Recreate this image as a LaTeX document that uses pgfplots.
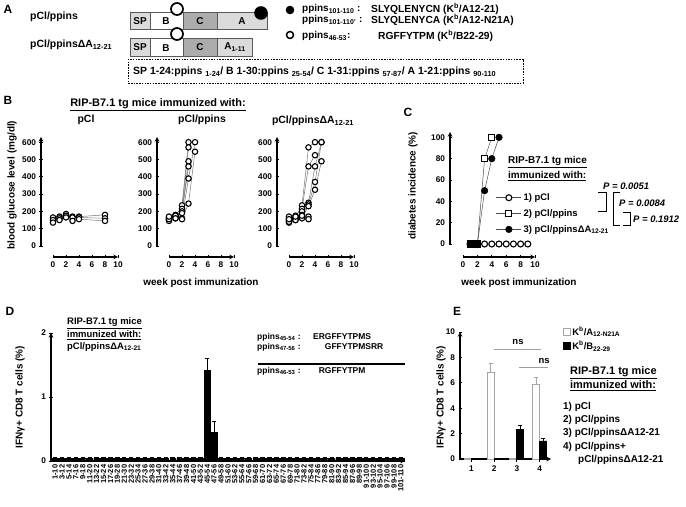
\documentclass[border=0pt]{standalone}
\usepackage{fontspec}
\setmainfont{Liberation Sans}
\usepackage{pgfplots}
\pgfplotsset{compat=1.18}
\usepackage{pgfplotstable}

\pgfplotstableread{
x y e
0 0.04 0.01
1 0.04 0.01
2 0.04 0.01
3 0.04 0.01
4 0.04 0.01
5 0.04 0.01
6 0.04 0.01
7 0.04 0.01
8 0.04 0.01
9 0.04 0.01
10 0.04 0.01
11 0.04 0.01
12 0.04 0.01
13 0.04 0.01
14 0.04 0.01
15 0.04 0.01
16 0.04 0.01
17 0.04 0.01
18 0.04 0.01
19 0.04 0.01
20 0.04 0.01
21 0.04 0.01
22 1.42 0.18
23 0.45 0.16
24 0.04 0.01
25 0.04 0.01
26 0.04 0.01
27 0.04 0.01
28 0.04 0.01
29 0.04 0.01
30 0.04 0.01
31 0.04 0.01
32 0.04 0.01
33 0.04 0.01
34 0.04 0.01
35 0.04 0.01
36 0.04 0.01
37 0.04 0.01
38 0.04 0.01
39 0.04 0.01
40 0.04 0.01
41 0.04 0.01
42 0.04 0.01
43 0.04 0.01
44 0.04 0.01
45 0.04 0.01
46 0.04 0.01
47 0.04 0.01
48 0.04 0.01
49 0.04 0.01
50 0.04 0.01
}\dataD

\pgfplotsset{
  gp/.style={
    scale only axis, clip=false,
    axis line style={-, line width=1.1bp, black},
    tick style={black, line width=0.9bp},
    tick align=outside,
    major tick length=3bp, minor tick length=2bp,
    tick label style={font=\fontsize{8.3}{9}\selectfont},
    /pgf/number format/assume math mode=true,
  },
  mouse/.style={black!55, line width=0.5bp, mark=*, mark size=2.7bp,
    mark options={solid, draw=black, fill=white, line width=1.1bp}},
  xonly/.style={gp, height=4bp, ymin=0, ymax=1, xmin=0, xmax=10,
    axis x line=bottom, axis y line=none, xtick={0,2,...,10}, minor x tick num=1, ytick=\empty},
  bsub/.style={gp, anchor=south west, width=77bp, height=109bp,
    xmin=-1.846, xmax=10, ymin=0, ymax=630, axis y line=left, axis x line=none, xtick=\empty,
    ytick={0,100,...,600}, minor y tick num=1},
  sqlegend/.style={legend image code/.code={\draw[##1] (0bp,-3.5bp) rectangle (7bp,3.5bp);}},
}

\begin{document}
\bfseries
\begin{tikzpicture}
\useasboundingbox (0,0) rectangle (686bp,507bp);

% ---------------- Panel B ----------------
\begin{axis}[bsub, at={(41bp,261bp)}]
\addplot[mouse] coordinates {(0,165)(1,170)(2,185)(3,170)(4,170)(8,180)};
\addplot[mouse] coordinates {(0,150)(1,160)(2,175)(3,165)(4,165)(8,160)};
\addplot[mouse] coordinates {(0,135)(1,150)(2,165)(3,145)(4,155)(8,145)};
\end{axis}
\begin{axis}[xonly, at={(53bp,250bp)}, anchor=south west, width=65bp]
\end{axis}

\begin{axis}[bsub, at={(157bp,261bp)}]
\addplot[mouse] coordinates {(0,160)(1,170)(2,235)(3,600)};
\addplot[mouse] coordinates {(0,150)(1,160)(2,215)(3,570)};
\addplot[mouse] coordinates {(0,165)(1,180)(2,200)(3,490)};
\addplot[mouse] coordinates {(0,145)(1,165)(2,190)(3,460)};
\addplot[mouse] coordinates {(0,155)(1,175)(2,160)(3,390)(4,600)};
\addplot[mouse] coordinates {(0,170)(1,160)(2,155)(3,245)(4,545)};
\end{axis}
\begin{axis}[xonly, at={(169bp,250bp)}, anchor=south west, width=65bp]
\end{axis}

\begin{axis}[bsub, at={(277bp,261bp)}]
\addplot[mouse] coordinates {(0,150)(1,165)(2,235)(3,570)(4,600)};
\addplot[mouse] coordinates {(0,160)(1,175)(2,215)(3,460)(4,525)};
\addplot[mouse] coordinates {(0,135)(1,150)(2,200)(3,250)(4,460)(5,600)};
\addplot[mouse] coordinates {(0,170)(1,155)(2,180)(3,240)(4,370)(5,600)};
\addplot[mouse] coordinates {(0,145)(1,160)(2,165)(3,230)(4,325)(5,490)};
\addplot[mouse] coordinates {(0,140)(1,150)(2,160)(3,170)};
\addplot[mouse] coordinates {(0,155)(1,170)(2,175)(3,155)};
\end{axis}
\begin{axis}[xonly, at={(289bp,250bp)}, anchor=south west, width=65bp]
\end{axis}

% ---------------- Panel C ----------------
\begin{axis}[gp, at={(450bp,263bp)}, anchor=south west, width=85bp, height=112bp,
  xmin=-1.806, xmax=10, ymin=0, ymax=105,
  axis y line=left, axis x line=none, xtick=\empty,
  ytick={0,20,...,100}, minor y tick num=1,
  legend image code/.code={\draw[mark repeat=2,mark phase=2,#1] plot coordinates {(0bp,0bp) (12.5bp,0bp) (25bp,0bp)};},
  legend style={at={(0.54,0.47)}, anchor=north west, draw=none, fill=none,
    font=\fontsize{9.5}{10}\selectfont, row sep=3.5bp, inner sep=0pt, cells={anchor=west}},
  legend cell align=left]
\addplot[black!70, line width=0.5bp, mark=*, mark size=3bp,
  mark options={solid, draw=black, fill=white, line width=1.1bp}]
  coordinates {(1,0)(2,0)(3,0)(4,0)(5,0)(6,0)(7,0)(8,0)(9,0)};
\addplot[black!70, line width=0.5bp, mark=square*, mark size=3bp,
  mark options={solid, draw=black, fill=white, line width=1.1bp}]
  coordinates {(1,0)(2,0)(3,80)(4,100)};
\addplot[black!70, line width=0.5bp, mark=*, mark size=3.3bp,
  mark options={solid, draw=black, fill=black, line width=0.5bp}]
  coordinates {(1,0)(2,0)(3,50)(4,80)(5,100)};
\legend{1) pCl, 2) pCl/ppins, 3) pCl/ppinsΔA\textsubscript{12-21}}
\end{axis}
\begin{axis}[xonly, at={(463bp,250bp)}, anchor=south west, width=72bp]
\end{axis}

% ---------------- Panel D ----------------
\begin{axis}[gp, at={(51bp,46bp)}, anchor=south west, width=354bp, height=128bp,
  xmin=-0.6, xmax=50.6, ymin=0, ymax=2,
  axis x line=bottom, axis y line=left,
  ytick={0,1,2}, minor y tick num=1,
  xtick={0,...,50}, xtick style={draw=none},
  xticklabels={1-10,3-12,5-14,7-16,9-18,11-20,13-22,15-24,17-26,19-28,21-30,23-32,25-34,27-36,29-38,31-40,33-42,35-44,37-46,39-48,41-50,43-52,45-54,47-56,49-58,51-60,53-62,55-64,57-66,59-68,61-70,63-72,65-74,67-76,69-78,71-80,73-82,75-84,77-86,79-88,81-90,83-92,85-94,87-96,89-98,91-100,93-102,95-104,97-106,99-108,101-110},
  xticklabel style={rotate=90, anchor=east, font=\fontsize{7.5}{8}\selectfont, inner sep=0.6bp},
  ybar, bar width=5.8bp]
\addplot[fill=black, draw=black,
  error bars/.cd, y dir=plus, y explicit,
  error bar style={black, line width=0.9bp},
  error mark options={rotate=90, black, mark size=2.2bp, line width=1bp}]
  table[x=x, y=y, y error=e] {\dataD};
\end{axis}

% ---------------- Panel E ----------------
\begin{axis}[gp, at={(460bp,48bp)}, anchor=south west, width=91bp, height=127bp,
  xmin=0.5, xmax=4.5, ymin=0, ymax=10,
  axis x line=bottom, axis y line=left,
  xtick={1,2,3,4}, ytick={0,2,...,10}, minor y tick num=1,
  ybar=0pt, bar width=7bp,
  legend style={at={(1.125,1.06)}, anchor=north west, draw=none, fill=none,
    font=\fontsize{9.5}{10}\selectfont, row sep=0.5bp, inner sep=0pt, cells={anchor=west}},
  legend cell align=left]
\addplot[fill=white, draw=gray!70, line width=0.8bp, sqlegend,
  error bars/.cd, y dir=plus, y explicit,
  error bar style={gray!70, line width=0.8bp},
  error mark options={rotate=90, gray!70, mark size=2bp, line width=0.8bp}]
  coordinates {(1,0.06) (2,6.8) +- (0,0.7) (3,0.06) (4,5.9) +- (0,0.56)};
\addplot[fill=black, draw=black, line width=0.8bp, sqlegend,
  error bars/.cd, y dir=plus, y explicit,
  error bar style={black, line width=0.8bp},
  error mark options={rotate=90, black, mark size=2bp, line width=0.8bp}]
  coordinates {(1,0.06) (2,0.06) (3,2.36) +- (0,0.25) (4,1.42) +- (0,0.23)};
\legend{K\textsuperscript{b}/A\textsubscript{12-N21A}, K\textsuperscript{b}/B\textsubscript{22-29}}
\draw[gray!75, line width=1bp] (axis cs:2,8.66) -- (axis cs:4.05,8.66);
\draw[gray!75, line width=1bp] (axis cs:3.1,7.17) -- (axis cs:4.35,7.17);
\node[font=\fontsize{9.5}{10}\selectfont, anchor=south] at (axis cs:3.05,8.7) {ns};
\node[font=\fontsize{9.5}{10}\selectfont, anchor=south] at (axis cs:4.2,7.2) {ns};
\end{axis}

% ---------------- Texts and diagram (pixel coordinates, y down) ----------------
\begin{scope}[shift={(0bp,507bp)}, x=1bp, y=-1bp,
  every node/.style={inner sep=0pt, font=\fontsize{10}{11}\selectfont}]
% panel letters
\node[font=\fontsize{12}{13}\selectfont] at (8,9) {A};
\node[font=\fontsize{12}{13}\selectfont] at (8,100) {B};
\node[font=\fontsize{12}{13}\selectfont] at (408,112) {C};
\node[font=\fontsize{12}{13}\selectfont] at (10,311) {D};
\node[font=\fontsize{12}{13}\selectfont] at (457,311) {E};

% panel A
\node[anchor=west, font=\fontsize{10.5}{11}\selectfont] at (30,17) {pCl/ppins};
\node[anchor=west, font=\fontsize{10.5}{11}\selectfont] at (30,45) {pCl/ppinsΔA\textsubscript{12-21}};
\begin{scope}[draw=black!65, line width=0.9bp]
\draw[fill=gray!28] (130,12) rectangle (150,29);
\draw[fill=white] (150,12) rectangle (183,29);
\draw[fill=gray!65] (183,12) rectangle (217,29);
\draw[fill=gray!28] (217,12) rectangle (267,29);
\draw[fill=gray!28] (130,38) rectangle (150,56);
\draw[fill=white] (150,38) rectangle (183,56);
\draw[fill=gray!65] (183,38) rectangle (217,56);
\draw[fill=gray!28] (217,38) rectangle (252,56);
\end{scope}
\node[font=\fontsize{10}{10}\selectfont] at (140,21) {SP};
\node[font=\fontsize{10}{10}\selectfont] at (166,21) {B};
\node[font=\fontsize{10}{10}\selectfont] at (200,21) {C};
\node[font=\fontsize{10}{10}\selectfont] at (242,21) {A};
\node[font=\fontsize{10}{10}\selectfont] at (140,47) {SP};
\node[font=\fontsize{10}{10}\selectfont] at (166,48) {B};
\node[font=\fontsize{10}{10}\selectfont] at (200,47) {C};
\node[font=\fontsize{10}{10}\selectfont] at (235,47) {A\textsubscript{1-11}};
\draw[line width=1.7bp, fill=white] (177,9) circle[radius=6bp];
\draw[line width=1.7bp, fill=white] (177,34) circle[radius=6bp];
\fill (261,13) circle[radius=6.8bp];
\fill (290,10) circle[radius=4.3bp];
\draw[line width=1.5bp] (290,35) circle[radius=3.5bp];
\node[anchor=west, font=\fontsize{10}{11}\selectfont] at (302,9) {ppins\textsubscript{101-110} :};
\node[anchor=west, font=\fontsize{10}{11}\selectfont] at (302,20) {ppins\textsubscript{101-110'} :};
\node[anchor=west, font=\fontsize{10.3}{11}\selectfont] at (371,9) {SLYQLENYCN (K\textsuperscript{b}/A12-21)};
\node[anchor=west, font=\fontsize{10.3}{11}\selectfont] at (371,20) {SLYQLENYCA (K\textsuperscript{b}/A12-N21A)};
\node[anchor=west, font=\fontsize{10}{11}\selectfont] at (302,36) {ppins\textsubscript{46-53}:};
\node[anchor=west, font=\fontsize{10.3}{11}\selectfont] at (378,36) {RGFFYTPM (K\textsuperscript{b}/B22-29)};
\draw[dash pattern=on 1.5bp off 1.2bp, line width=0.8bp] (128,59) rectangle (523,83);
\node[anchor=west, font=\fontsize{10.5}{11}\selectfont] at (133,72) {SP 1-24:ppins \textsubscript{1-24}/ B 1-30:ppins \textsubscript{25-54}/ C 1-31:ppins \textsubscript{57-87}/ A 1-21:ppins \textsubscript{90-110}};

% panel B texts
\node[font=\fontsize{11}{12}\selectfont] at (158,105) {\underline{RIP-B7.1 tg mice immunized with:}};
\node[font=\fontsize{10.5}{12}\selectfont] at (86,120) {pCl};
\node[font=\fontsize{10.5}{12}\selectfont] at (202,120) {pCl/ppins};
\node[font=\fontsize{10.5}{12}\selectfont] at (313,121) {pCl/ppinsΔA\textsubscript{12-21}};
\node[rotate=90] at (12,185) {blood glucose level (mg/dl)};
\node at (201,283) {week post immunization};

% panel C texts
\node[rotate=90] at (413,186) {diabetes incidence (\%)};
\node at (519,283) {week post immunization};
\node[anchor=west] at (508,162) {\underline{RIP-B7.1 tg mice}};
\node[anchor=west] at (508,176) {\underline{immunized with:}};
\node[anchor=west, font=\fontsize{9.5}{11}\selectfont\itshape] at (603,186) {P = 0.0051};
\node[anchor=west, font=\fontsize{9.5}{11}\selectfont\itshape] at (619,203) {P = 0.0084};
\node[anchor=west, font=\fontsize{9.5}{11}\selectfont\itshape] at (633,219) {P = 0.1912};
\draw[line width=1bp] (598,193) -- (606,193) -- (606,212) -- (598,212);
\draw[line width=1bp] (620,193) -- (613,193) -- (613,226) -- (620,226);
\draw[line width=1bp] (623,213) -- (630,213) -- (630,226) -- (623,226);

% panel D texts
\node[rotate=90] at (20,397) {IFNγ+ CD8 T cells (\%)};
\node[anchor=west, font=\fontsize{9.5}{10}\selectfont] at (67,323) {\underline{RIP-B7.1 tg mice}};
\node[anchor=west, font=\fontsize{9.5}{10}\selectfont] at (67,335) {\underline{immunized with:}};
\node[anchor=west, font=\fontsize{9.5}{10}\selectfont] at (67,347) {pCl/ppinsΔA\textsubscript{12-21}};
\node[anchor=west, font=\fontsize{8.5}{10}\selectfont] at (257,337) {ppins\textsubscript{45-54} :};
\node[anchor=west, font=\fontsize{8.5}{10}\selectfont] at (257,347) {ppins\textsubscript{47-56} :};
\node[anchor=west, font=\fontsize{8.5}{10}\selectfont] at (257,371) {ppins\textsubscript{46-53} :};
\node[anchor=west, font=\fontsize{8.5}{10}\selectfont] at (313,337) {ERGFFYTPMS};
\node[anchor=west, font=\fontsize{8.5}{10}\selectfont] at (313,347) {\phantom{ER}GFFYTPMSRR};
\node[anchor=west, font=\fontsize{8.5}{10}\selectfont] at (313,371) {\phantom{E}RGFFYTPM};
\draw[line width=1.4bp] (258,364) -- (405,364);

% panel E texts
\node[rotate=90] at (441,397) {IFNγ+ CD8 T cells (\%)};
\node[anchor=west, font=\fontsize{11}{12}\selectfont] at (570,373) {\underline{RIP-B7.1 tg mice}};
\node[anchor=west, font=\fontsize{11}{12}\selectfont] at (570,386) {\underline{immunized with:}};
\node[anchor=west] at (563,407) {1) pCl};
\node[anchor=west] at (563,420) {2) pCl/ppins};
\node[anchor=west] at (563,433) {3) pCl/ppinsΔA12-21};
\node[anchor=west] at (563,447) {4) pCl/ppins+};
\node[anchor=west] at (578,460) {pCl/ppinsΔA12-21};
\end{scope}
\end{tikzpicture}
\end{document}
